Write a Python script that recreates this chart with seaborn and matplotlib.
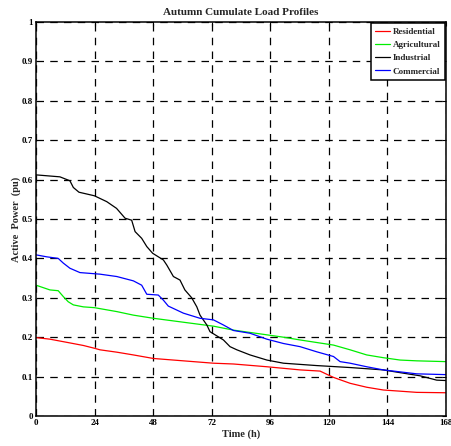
import numpy as np
import pandas as pd
import matplotlib
matplotlib.use("Agg")
import matplotlib.pyplot as plt
import seaborn as sns

# Cumulative (sorted) weekly load profiles for autumn, hours 0..168
res_t = [0, 5.7, 12.6, 19.4, 23.9, 26.2, 33.1, 39.9, 48.1, 60.4, 72.7, 80.9, 94.6,
         108.2, 116.4, 119.8, 121.9, 128.7, 135.5, 142.3, 149.2, 156, 168]
res_p = [0.199, 0.195, 0.187, 0.179, 0.172, 0.168, 0.162, 0.155, 0.146, 0.140, 0.134,
         0.132, 0.125, 0.117, 0.114, 0.104, 0.098, 0.083, 0.073, 0.066, 0.063, 0.060, 0.059]

agr_t = [0, 5.7, 9.1, 11.2, 13.2, 15.3, 19.4, 23.9, 33.1, 39.9, 48.1, 60.4, 72.7,
         80.9, 94.6, 101.4, 108.2, 121.9, 128.7, 135.5, 142.3, 149.2, 156, 168]
agr_p = [0.332, 0.320, 0.318, 0.303, 0.290, 0.282, 0.277, 0.275, 0.265, 0.256, 0.248,
         0.238, 0.228, 0.218, 0.206, 0.200, 0.193, 0.180, 0.168, 0.155, 0.148, 0.142,
         0.140, 0.138]

ind_t = [0, 9.8, 13.9, 15.3, 17.6, 23.9, 29, 33, 36.5, 39.2, 40.6, 43.3, 45.4, 47.8,
         52.2, 53.6, 56.3, 59, 61, 63.8, 65.9, 67.2, 70, 71.3, 73.4, 76.8, 79.5, 82.3,
         87.7, 94.6, 101.4, 115, 128.7, 142.3, 149.2, 157.4, 164.2, 168]
ind_p = [0.612, 0.607, 0.597, 0.580, 0.568, 0.559, 0.544, 0.527, 0.502, 0.497, 0.468,
         0.451, 0.430, 0.413, 0.396, 0.383, 0.354, 0.345, 0.320, 0.300, 0.277, 0.256,
         0.231, 0.214, 0.206, 0.193, 0.176, 0.168, 0.155, 0.142, 0.134, 0.128, 0.123,
         0.117, 0.110, 0.102, 0.091, 0.090]

com_t = [0, 4.4, 9.1, 11.2, 13.9, 18, 26.2, 33.1, 39.9, 43.3, 45.4, 50.1, 52.2, 54.2,
         60.4, 67.2, 72.7, 76.8, 80.9, 87.7, 94.6, 101.4, 108.2, 115, 121.9, 124.6,
         128.7, 135.5, 142.3, 149.2, 156, 168]
com_p = [0.409, 0.404, 0.400, 0.388, 0.375, 0.364, 0.360, 0.354, 0.343, 0.332, 0.309,
         0.307, 0.294, 0.279, 0.261, 0.248, 0.244, 0.231, 0.217, 0.210, 0.195, 0.184,
         0.176, 0.163, 0.151, 0.138, 0.134, 0.125, 0.117, 0.112, 0.107, 0.105]

series = ["Residential", "Agricultural", "Industrial", "Commercial"]
colors = ["#ff0000", "#00ee00", "#000000", "#0000ff"]

frames = []
for name, t, p in zip(series, [res_t, agr_t, ind_t, com_t], [res_p, agr_p, ind_p, com_p]):
    frames.append(pd.DataFrame({"Time": t, "Power": p, "Load": name}))
df = pd.concat(frames, ignore_index=True)

sns.set_style("white")
plt.rcParams["font.family"] = ["Liberation Serif", "DejaVu Serif"]
plt.rcParams["font.weight"] = "bold"

fig = plt.figure(figsize=(4.51, 4.46), dpi=100)
ax = fig.add_axes([36 / 451, 30 / 446, 410 / 451, 394 / 446])

sns.lineplot(data=df, x="Time", y="Power", hue="Load", hue_order=series,
             palette=colors, linewidth=0.9, ax=ax, legend=True, sort=False)

ax.set_xlim(0, 168)
ax.set_ylim(0, 1)
ax.set_xticks(np.arange(0, 169, 24))
ax.set_yticks(np.round(np.arange(0, 1.01, 0.1), 1))
ax.set_yticklabels(["0", "0.1", "0.2", "0.3", "0.4", "0.5", "0.6", "0.7", "0.8", "0.9", "1"])
ax.grid(True, color="black", linestyle=(0, (6, 5)), linewidth=0.9)
ax.tick_params(direction="in", length=3, width=0.8, labelsize=6.5, pad=2,
               top=True, right=True, colors="black")
for lbl in ax.get_xticklabels() + ax.get_yticklabels():
    lbl.set_fontweight("bold")
for s in ax.spines.values():
    s.set_color("black")
    s.set_linewidth(1.1)

ax.set_title("Autumn Cumulate Load Profiles", fontsize=8, fontweight="bold", pad=5)
ax.set_xlabel("Time (h)", fontsize=7.5, fontweight="bold", labelpad=2)
ax.set_ylabel("Active  Power  (pu)", fontsize=7.5, fontweight="bold", labelpad=1)

leg = ax.legend(loc="upper right", fontsize=6.5, frameon=True, fancybox=False,
                handlelength=1.7, handletextpad=0.3, borderpad=0.45,
                labelspacing=0.55, borderaxespad=0.15, title=None)
leg.get_frame().set_edgecolor("black")
leg.get_frame().set_linewidth(1.1)
leg.get_frame().set_alpha(1)
for txt in leg.get_texts():
    txt.set_fontweight("bold")

fig.savefig("out.png", dpi=100, facecolor="white")
